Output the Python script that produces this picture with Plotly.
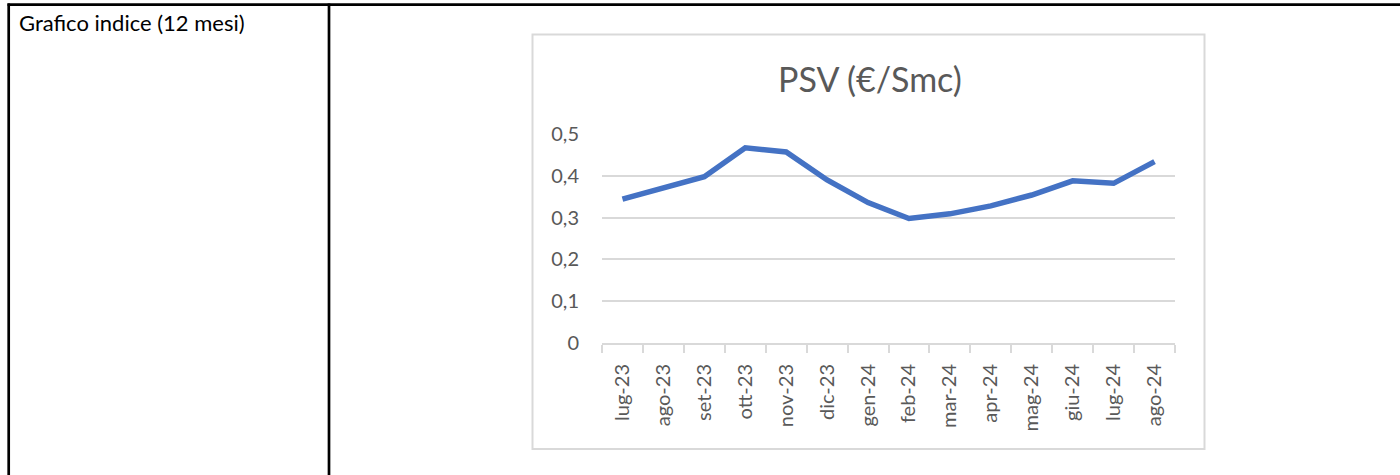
import plotly.graph_objects as go

W, H = 1400, 475

months = ["lug-23", "ago-23", "set-23", "ott-23", "nov-23", "dic-23", "gen-24",
          "feb-24", "mar-24", "apr-24", "mag-24", "giu-24", "lug-24", "ago-24"]
psv = [0.344, 0.370, 0.398, 0.467, 0.457, 0.390, 0.336,
       0.298, 0.309, 0.328, 0.354, 0.388, 0.382, 0.434]
y_ticks = [0, 0.1, 0.2, 0.3, 0.4, 0.5]

title_text = "PSV (€/Smc)"
row_label = "Grafico indice (12 mesi)"

FONT = "Lato, 'Open Sans', sans-serif"
GRAY = "#595959"
GRID = "#d9d9d9"

def px(x):
    return x / W

def py(y):
    return 1 - y / H

fig = go.Figure()
fig.add_trace(go.Scatter(
    x=months, y=psv, mode="lines",
    line=dict(color="#4472C4", width=5.5),
    hoverinfo="x+y", showlegend=False,
))

fig.update_layout(
    width=W, height=H,
    margin=dict(l=0, r=0, t=0, b=0, pad=0, autoexpand=False),
    paper_bgcolor="white", plot_bgcolor="white",
    separators=",.",
    font=dict(family=FONT, color=GRAY),
    xaxis=dict(
        domain=[px(602), px(1175)], automargin=False,
        type="category", range=[-0.5, len(months) - 0.5],
        tickson="boundaries", ticks="outside", ticklen=8, tickwidth=1.5, tickcolor=GRID,
        showline=True, linecolor=GRID, linewidth=2,
        showgrid=False, zeroline=False,
        tickangle=-90, tickfont=dict(size=20, color=GRAY, family=FONT),
        ticklabelstandoff=11,
    ),
    yaxis=dict(
        domain=[py(343), py(134)], automargin=False,
        range=[0, 0.5], tickvals=y_ticks,
        showgrid=True, gridcolor=GRID, gridwidth=1.5,
        zeroline=False, showline=False, ticks="",
        tickfont=dict(size=20, color=GRAY, family=FONT),
        ticklabelstandoff=22,
    ),
)

shapes = []
# chart frame
shapes.append(dict(type="rect", xref="paper", yref="paper",
                   x0=px(532.5), x1=px(1204.5), y0=py(449), y1=py(34.5),
                   line=dict(color=GRID, width=2), layer="below"))
# table lines
shapes.append(dict(type="line", xref="paper", yref="paper",
                   x0=px(7.5), x1=1, y0=py(4.7), y1=py(4.7),
                   line=dict(color="black", width=2.7)))
shapes.append(dict(type="line", xref="paper", yref="paper",
                   x0=px(8.7), x1=px(8.7), y0=py(3.5), y1=0,
                   line=dict(color="black", width=2.7)))
shapes.append(dict(type="line", xref="paper", yref="paper",
                   x0=px(329), x1=px(329), y0=py(3.5), y1=0,
                   line=dict(color="black", width=2.7)))
fig.update_layout(shapes=shapes)

fig.add_annotation(text=title_text, xref="paper", yref="paper",
                   x=px(869.5), y=py(79), xanchor="center", yanchor="middle",
                   showarrow=False, font=dict(size=34, color=GRAY, family=FONT))
fig.add_annotation(text=row_label, xref="paper", yref="paper",
                   x=px(17), y=py(23), xanchor="left", yanchor="middle",
                   showarrow=False, font=dict(size=22, color="black", family=FONT))

fig.write_html("out.html",
               config={"displayModeBar": False},
               post_script="document.body.style.margin='0';document.body.style.overflow='hidden';")
